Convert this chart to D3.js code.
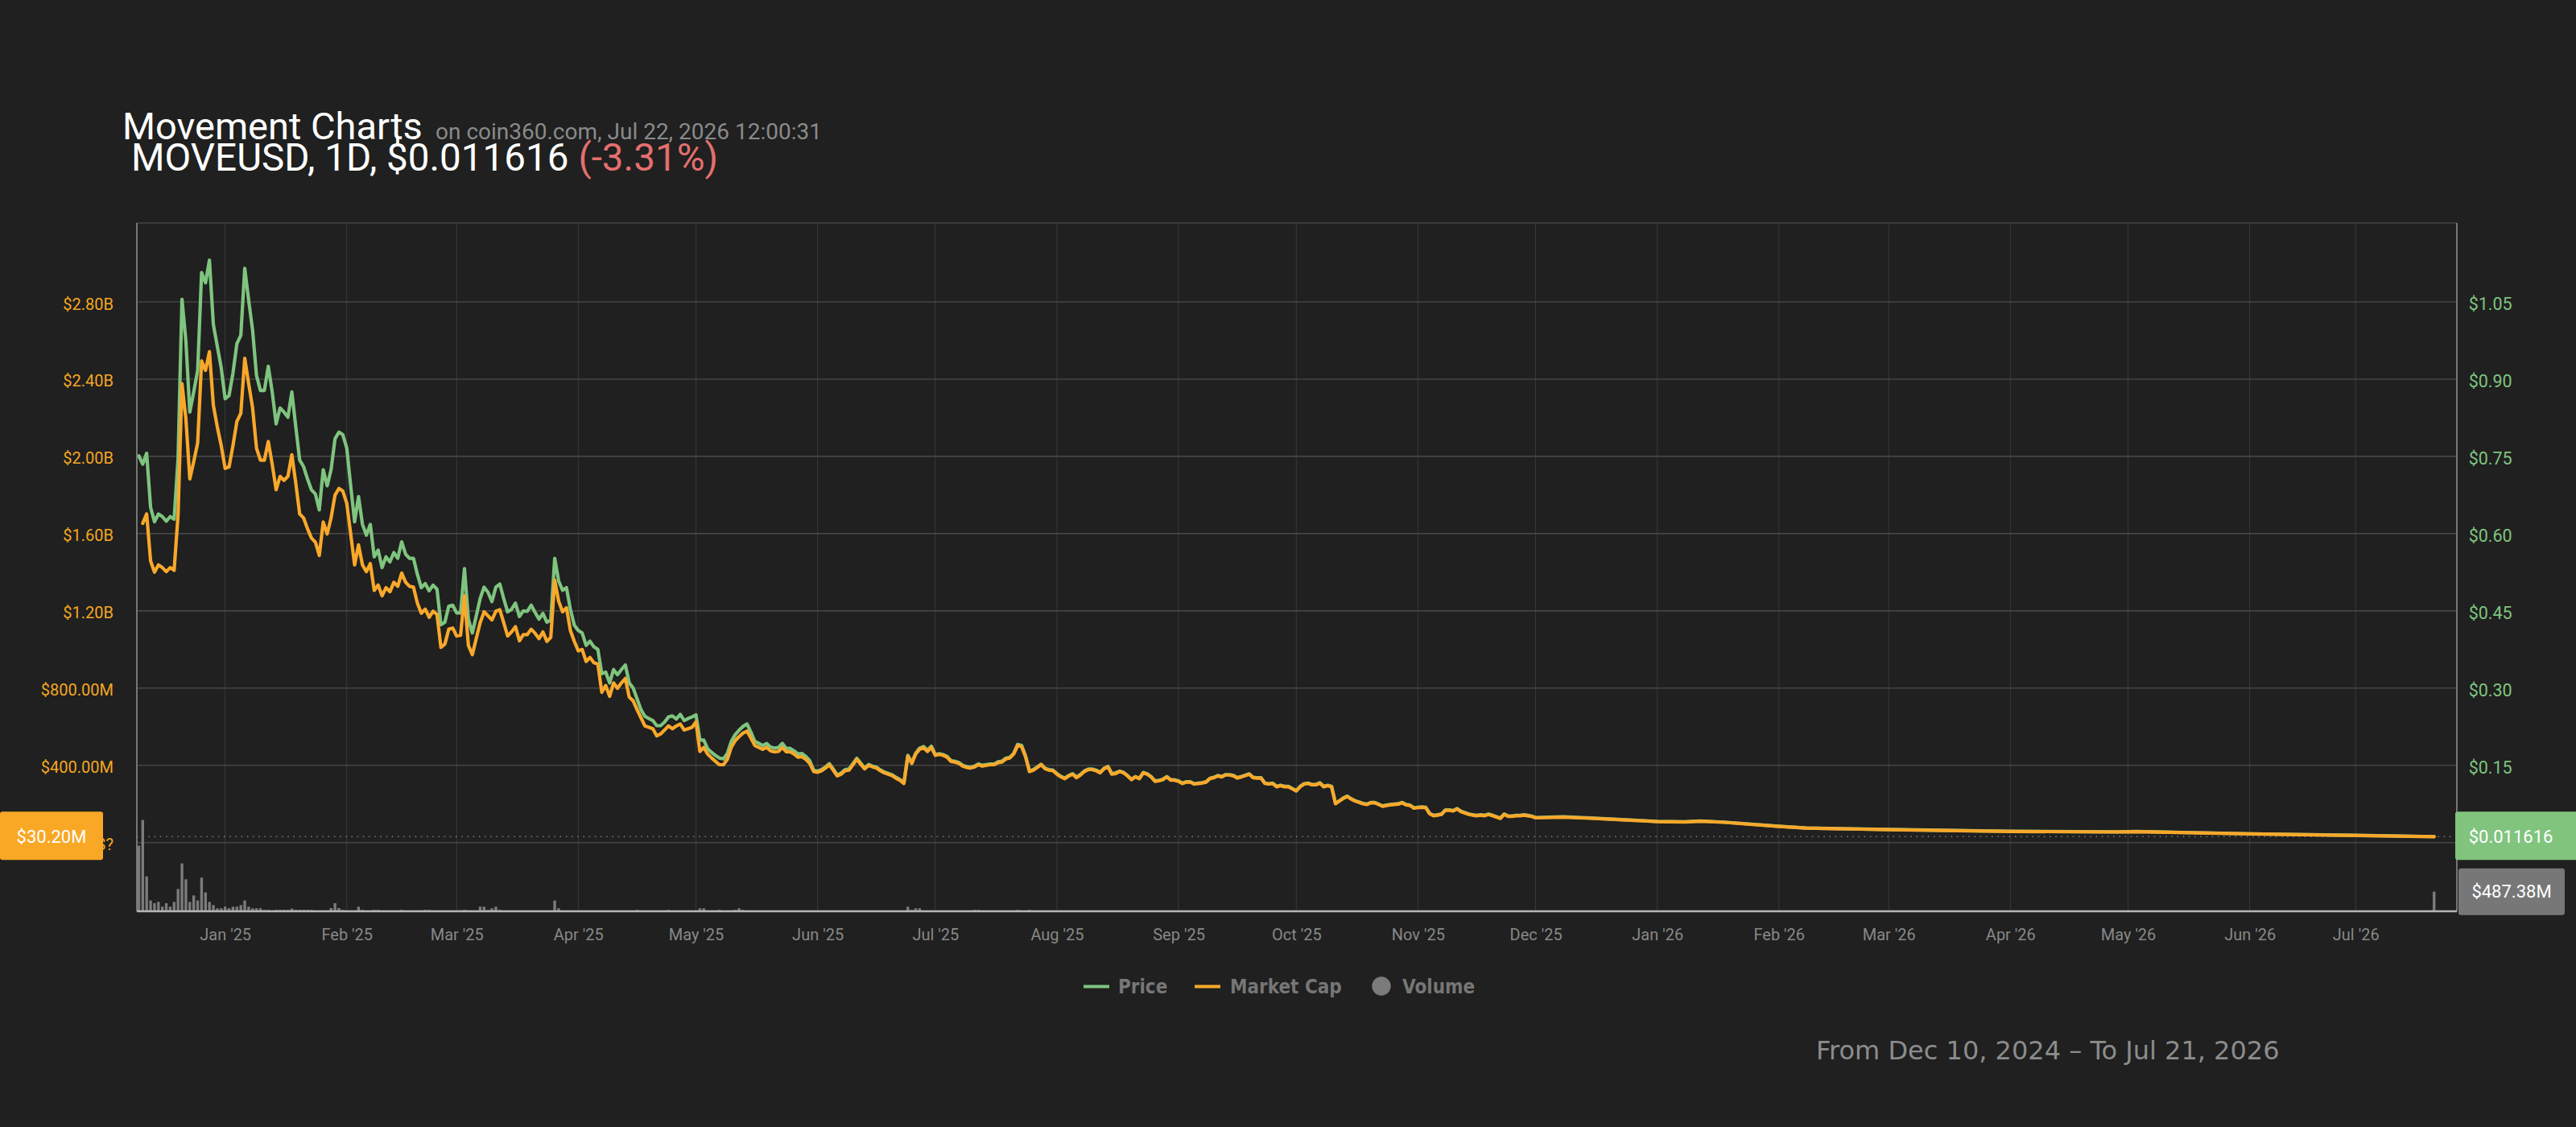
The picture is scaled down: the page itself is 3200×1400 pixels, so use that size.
<!DOCTYPE html>
<html><head><meta charset="utf-8">
<script src="https://cdn.jsdelivr.net/npm/d3@7"></script>
<style>
html,body{margin:0;padding:0;background:#1f201f;}
svg{display:block;}
</style></head><body>
<svg id="chart" width="3200" height="1400"></svg>
<script>
// ---------- DATA ----------
const startDate = "2024-12-10", endDate = "2026-07-21";
const missingDates = ["2026-06-14", "2026-06-15", "2026-06-16"];
// daily price (USD), from 2024-12-10
const priceValues = [
0.751,0.735,0.756,0.651,0.623,0.638,0.633,0.624,0.633,0.628,
0.745,1.055,0.974,0.836,0.875,0.917,1.107,1.087,1.131,1.006,
0.964,0.922,0.862,0.868,0.912,0.969,0.985,1.115,1.053,0.995,
0.907,0.878,0.878,0.925,0.875,0.813,0.844,0.836,0.826,0.875,
0.808,0.743,0.730,0.706,0.685,0.677,0.646,0.724,0.693,0.724,
0.784,0.797,0.792,0.766,0.693,0.623,0.672,0.618,0.597,0.618,
0.555,0.568,0.534,0.555,0.545,0.563,0.552,0.584,0.560,0.552,
0.552,0.521,0.495,0.503,0.489,0.500,0.492,0.423,0.428,0.459,
0.461,0.446,0.446,0.532,0.434,0.407,0.440,0.474,0.496,0.486,
0.468,0.496,0.502,0.474,0.448,0.453,0.465,0.439,0.450,0.449,
0.461,0.447,0.434,0.445,0.428,0.432,0.552,0.508,0.490,0.495,
0.453,0.422,0.412,0.407,0.383,0.391,0.380,0.375,0.328,0.331,
0.310,0.336,0.326,0.336,0.345,0.310,0.300,0.279,0.258,0.245,
0.241,0.237,0.227,0.227,0.234,0.244,0.246,0.240,0.249,0.237,
0.241,0.244,0.248,0.199,0.199,0.182,0.175,0.169,0.164,
0.1626,0.173,0.1965,0.2095,0.2183,0.2256,0.2303,0.2147,0.1965,0.1928,
0.1886,0.1923,0.1855,0.1834,0.1845,0.1928,0.1829,0.1829,0.1782,0.172,
0.173,0.1673,0.159,0.1407,0.1386,0.1417,0.147,0.1532,0.1428,0.1313,
0.135,0.1417,0.1428,0.1532,0.1636,0.1542,0.1449,0.1516,0.1485,0.1464,
0.1412,0.137,0.1344,0.1318,0.1266,0.1225,0.1162,0.1694,0.1553,0.1735,
0.1834,0.1866,0.1793,0.1871,0.1709,0.1725,0.1709,0.1673,0.159,0.1579,
0.1553,0.1501,0.1475,0.1464,0.1485,0.1527,0.1501,0.1516,0.1527,0.1527,
0.1568,0.1579,0.1641,0.1657,0.1735,0.1907,0.1886,0.1683,0.1391,0.1417,
0.147,0.1522,0.1443,0.1417,0.1407,0.1339,0.1287,0.1251,0.1303,0.1339,
0.1271,0.1324,0.1391,0.1428,0.1428,0.1407,0.1365,0.1443,0.148,0.1339,
0.1355,
0.1388,0.1362,0.1302,0.1230,0.1283,0.1249,0.1362,0.1335,0.1283,0.1197,
0.1208,0.1230,0.1283,0.1219,0.1219,0.1197,0.1155,0.1182,0.1182,0.1144,
0.1155,0.1163,0.1182,0.1249,0.1268,0.1302,0.1283,0.1320,0.1320,0.1302,
0.1260,0.1283,0.1309,0.1335,0.1268,0.1260,0.1260,0.1155,0.1144,0.1155,
0.1092,0.1114,0.1092,0.1092,0.1050,0.1009,0.1092,0.1144,0.1155,0.1129,
0.1129,0.1163,0.1092,0.1114,0.1092,0.0762,0.0814,0.0867,0.0904,0.0852,
0.0814,0.0788,0.0762,0.0747,0.0780,0.0780,0.0747,0.0713,0.0728,0.0739,
0.0747,0.0754,0.0780,0.0739,0.0728,0.0675,0.0687,0.0694,0.0687,0.0567,
0.0529,0.0540,0.0555,0.0634,0.0634,0.0623,0.0660,0.0608,0.0582,0.0555,
0.0540,0.0529,0.0540,0.0529,0.0555,0.0529,0.0503,0.0477,0.0555,0.0518,
0.0518,0.0529,0.0529,0.0540,0.0529,0.0514,0.0488
];
// daily market cap (millions USD), from 2024-12-10
const capValuesM = [
null,1653,1702,1459,1400,1438,1424,1403,1424,1410,
1695,2376,2195,1883,1973,2070,2494,2445,2542,2265,
2153,2056,1938,1945,2056,2181,2223,2508,2376,2251,
2042,1980,1980,2077,1959,1827,1896,1876,1896,2008,
1862,1702,1681,1625,1577,1556,1487,1660,1598,1681,
1799,1834,1820,1757,1598,1438,1542,1438,1403,1445,
1306,1334,1278,1320,1299,1348,1327,1396,1348,1327,
1323,1240,1188,1209,1167,1198,1181,1011,1028,1105,
1111,1070,1073,1278,1021,973,1056,1139,1195,1174,
1153,1198,1206,1139,1070,1091,1118,1045,1077,1077,
1105,1084,1056,1091,1042,1063,1359,1250,1195,1216,
1098,1042,993,1000,938,959,931,924,778,813,
757,827,799,827,850,753,734,688,646,604,
597,590,553,563,583,604,590,604,614,583,
590,597,625,472,493,458,438,420,403,
403,431,493,528,549,567,577,542,503,493,
483,493,475,470,472,493,470,470,459,442,
445,431,410,368,364,372,386,403,375,345,
354,372,375,403,431,406,382,400,392,386,
372,361,354,347,333,322,306,447,410,459,
483,492,472,493,452,456,452,442,420,417,
410,396,389,386,392,403,396,400,403,403,
414,417,433,438,459,503,497,445,368,375,
389,403,382,375,372,354,340,331,345,354,
336,350,368,378,378,372,361,382,392,354,
358,
368,361,345,326,340,331,361,354,340,317,
320,326,340,323,323,317,306,313,313,303,
306,308,313,331,336,345,340,350,350,345,
334,340,347,354,336,334,334,306,303,306,
289,295,289,289,278,267,289,303,306,299,
299,308,289,295,289,201,215,229,239,225,
215,208,201,197,206,206,197,188,192,195,
197,199,206,195,192,178,181,183,181,149,
139,142,146,167,167,164,174,160,153,146,
142,139,142,139,146,139,132,125,146,136,
136,139,139,142,139,135,128
];
// later readings (sparse)
const lateDates = ["2025-12-08","2025-12-15","2025-12-22","2026-01-01","2026-01-08","2026-01-12","2026-01-18","2026-02-01","2026-02-08","2026-03-01","2026-04-01","2026-04-28","2026-05-03","2026-06-01","2026-07-01","2026-07-21"];
const latePrice = [0.0500,0.0477,0.0450,0.0413,0.0405,0.0420,0.0398,0.0318,0.0284,0.0254,0.0220,0.0208,0.0215,0.0171,0.0141,0.011616];
const lateCapM  = [132,126,119,109,107,111,105,84,75,67,58,55,57,45,37,30.2];
// volume (millions USD)
const volumeDates = ["2024-12-10","2024-12-11","2024-12-12","2024-12-13","2024-12-14","2024-12-15","2024-12-16","2024-12-17","2024-12-18","2024-12-19",
"2024-12-20","2024-12-21","2024-12-22","2024-12-23","2024-12-24","2024-12-25","2024-12-26","2024-12-27","2024-12-28","2024-12-29",
"2024-12-30","2024-12-31","2025-01-01","2025-01-02","2025-01-03","2025-01-04","2025-01-05","2025-01-06","2025-01-07","2025-01-08",
"2025-01-09","2025-01-10","2025-01-11","2025-01-12","2025-01-14","2025-01-15","2025-01-16","2025-01-17","2025-01-18","2025-01-19",
"2025-01-20","2025-01-21","2025-01-22","2025-01-23","2025-01-28","2025-01-29","2025-01-30","2025-01-31","2025-02-04","2025-02-05",
"2025-02-08","2025-02-09","2025-02-15","2025-02-21","2025-02-22","2025-03-03","2025-03-07","2025-03-08","2025-03-09","2025-03-10",
"2025-03-11","2025-03-12","2025-03-26","2025-03-27","2025-04-16","2025-04-24","2025-05-02","2025-05-03","2025-05-07","2025-05-11",
"2025-05-12","2025-05-13","2025-06-24","2025-06-25","2025-06-26","2025-06-27","2025-07-11","2025-07-12","2025-07-22","2025-07-25",
"2026-07-21"];
const volumeValuesM = [1630,2270,868,268,200,234,114,200,114,234,
554,1190,794,234,394,268,834,468,234,154,
74,74,114,74,114,114,154,268,114,74,
74,74,34,34,34,34,34,34,66,34,
34,34,34,34,80,200,80,34,114,34,
34,34,34,34,34,34,114,114,34,74,
114,34,266,74,34,34,74,74,34,34,
74,34,114,34,74,74,34,34,34,34,
487.38];
const capTicksM = [0,400,800,1200,1600,2000,2400,2800];
const capTickLabels = ["$?","$400.00M","$800.00M","$1.20B","$1.60B","$2.00B","$2.40B","$2.80B"];
const priceTicks = [0,0.15,0.30,0.45,0.60,0.75,0.90,1.05];
const priceTickLabels = ["$0.00","$0.15","$0.30","$0.45","$0.60","$0.75","$0.90","$1.05"];
const lastPriceLabel = "$0.011616", lastCapLabel = "$30.20M", lastVolLabel = "$487.38M";

// ---------- LAYOUT ----------
const plot = {left:170, right:3052, top:277, bottom:1132};
const C = {bg:"#1f201f", grid:"#454545", vgrid:"#3a3a3a", green:"#7fc47f", orange:"#f9a82b", vol:"#7b7b7b"};
const svg = d3.select("#chart");
svg.append("rect").attr("width",3200).attr("height",1400).attr("fill",C.bg);

const parse = d3.utcParse("%Y-%m-%d"), iso = d3.utcFormat("%Y-%m-%d");
const missing = new Set(missingDates);
const dates = d3.utcDay.range(parse(startDate), d3.utcDay.offset(parse(endDate),1)).filter(d=>!missing.has(iso(d)));
const N = dates.length;
const idx = new Map(dates.map((d,i)=>[iso(d),i]));

const x = d3.scaleLinear().domain([-0.5, N-1+5.8]).range([plot.left, plot.right]);
const capY = d3.scaleLinear().domain([0,2800]).range([1046.7,375]);
const priceY = d3.scaleLinear().domain([0,1.05]).range([1046.7,375]);
const volY = d3.scaleLinear().domain([0,2270]).range([plot.bottom,1018.6]);

// grid
const monthIdx = dates.map((d,i)=>d.getUTCDate()===1?i:-1).filter(i=>i>=0);
const grid = svg.append("g");
grid.selectAll("line.v").data(monthIdx).join("line").attr("class","v")
  .attr("x1",d=>x(d)).attr("x2",d=>x(d)).attr("y1",plot.top).attr("y2",plot.bottom)
  .attr("stroke",C.vgrid).attr("stroke-width",1);
grid.selectAll("line.h").data(capTicksM).join("line").attr("class","h")
  .attr("x1",plot.left).attr("x2",plot.right).attr("y1",d=>capY(d)).attr("y2",d=>capY(d))
  .attr("stroke",C.grid).attr("stroke-width",1.6);
grid.append("line").attr("x1",plot.left).attr("x2",plot.right).attr("y1",plot.top).attr("y2",plot.top)
  .attr("stroke",C.grid).attr("stroke-width",1.6);

// volume
svg.append("g").selectAll("rect").data(volumeDates.map((d,k)=>({i:idx.get(d),v:volumeValuesM[k]})))
  .join("rect").attr("x",d=>x(d.i)-1.7).attr("width",3.4)
  .attr("y",d=>volY(d.v)).attr("height",d=>plot.bottom-volY(d.v)).attr("fill",C.vol);

// points
const pts = priceValues.map((p,i)=>({i, p, m:capValuesM[i]}));
lateDates.forEach((d,k)=>pts.push({i:idx.get(d), p:latePrice[k], m:lateCapM[k]}));
const lastP = pts[pts.length-1];

// dotted current-price line
svg.append("line").attr("x1",plot.left).attr("x2",plot.right)
  .attr("y1",priceY(lastP.p)).attr("y2",priceY(lastP.p))
  .attr("stroke","#777").attr("stroke-width",1.6).attr("stroke-dasharray","1.6 5.6");

const priceLine = d3.line().defined(d=>d.p!=null).x(d=>x(d.i)).y(d=>priceY(d.p));
const capLine = d3.line().defined(d=>d.m!=null).x(d=>x(d.i)).y(d=>capY(d.m));
svg.append("path").datum(pts).attr("d",priceLine).attr("fill","none").attr("stroke",C.green)
  .attr("stroke-width",4.2).attr("stroke-linejoin","round").attr("stroke-linecap","round");
svg.append("path").datum(pts).attr("d",capLine).attr("fill","none").attr("stroke",C.orange)
  .attr("stroke-width",4.2).attr("stroke-linejoin","round").attr("stroke-linecap","round");

// axis lines
svg.append("line").attr("x1",plot.left).attr("x2",plot.left).attr("y1",plot.top).attr("y2",plot.bottom).attr("stroke","#8c8c8c").attr("stroke-width",1.6);
svg.append("line").attr("x1",plot.right).attr("x2",plot.right).attr("y1",plot.top).attr("y2",plot.bottom).attr("stroke","#8c8c8c").attr("stroke-width",1.6);
svg.append("line").attr("x1",plot.left).attr("x2",plot.right).attr("y1",plot.bottom).attr("y2",plot.bottom).attr("stroke","#b5b5b5").attr("stroke-width",2.5);

// axes
const fontR = "Roboto, 'Noto Sans', sans-serif";
const leftAx = svg.append("g").attr("transform",`translate(${plot.left},0)`)
  .call(d3.axisLeft(capY).tickValues(capTicksM).tickFormat((d,k)=>capTickLabels[k]).tickSize(0).tickPadding(29));
leftAx.select(".domain").remove();
leftAx.selectAll("text").attr("fill","#f5a623").attr("dy","0.45em").style("font-family",fontR).style("font-size","20px");

const rightAx = svg.append("g").attr("transform",`translate(${plot.right},0)`)
  .call(d3.axisRight(priceY).tickValues(priceTicks).tickFormat((d,k)=>priceTickLabels[k]).tickSize(0).tickPadding(14.7));
rightAx.select(".domain").remove();
rightAx.selectAll("text").attr("fill","#7fc47f").attr("dy","0.45em").style("font-family",fontR).style("font-size","21.5px");

const fmtM = d3.utcFormat("%b '%y");
const botAx = svg.append("g").attr("transform",`translate(0,${plot.bottom})`)
  .call(d3.axisBottom(x).tickValues(monthIdx).tickFormat(i=>fmtM(dates[i])).tickSize(0).tickPadding(22));
botAx.select(".domain").remove();
botAx.selectAll("text").attr("fill","#888").style("font-family",fontR).style("font-size","20px");

// badges
const yLast = priceY(lastP.p);
svg.append("rect").attr("x",0).attr("y",yLast-31).attr("width",128).attr("height",60).attr("rx",3).attr("fill","#f9a825");
svg.append("text").attr("x",64).attr("y",yLast+7.5).attr("text-anchor","middle").attr("fill","#fff")
  .style("font-family",fontR).style("font-size","22px").text(lastCapLabel);
svg.append("rect").attr("x",3050).attr("y",yLast-31).attr("width",152).attr("height",60).attr("rx",3).attr("fill","#80c47e");
svg.append("text").attr("x",3066.7).attr("y",yLast+7.5).attr("fill","#fff")
  .style("font-family",fontR).style("font-size","22px").text(lastPriceLabel);
const lastVol = volumeValuesM[volumeValuesM.length-1];
const yv = volY(lastVol);
svg.append("rect").attr("x",3054).attr("y",yv-29).attr("width",132).attr("height",58).attr("rx",3).attr("fill","#777");
svg.append("text").attr("x",3120).attr("y",yv+7.5).attr("text-anchor","middle").attr("fill","#fff")
  .style("font-family",fontR).style("font-size","22px").text(lastVolLabel);

// titles
svg.append("text").attr("x",152).attr("y",173).attr("fill","#fff").style("font-family",fontR).style("font-size","47px").text("Movement Charts");
svg.append("text").attr("x",541).attr("y",173).attr("fill","#8a8a8a").style("font-family",fontR).style("font-size","28px").text("on coin360.com, Jul 22, 2026 12:00:31");
const t2 = svg.append("text").attr("x",163).attr("y",212).attr("fill","#fff").style("font-family",fontR).style("font-size","47.6px");
t2.append("tspan").text("MOVEUSD, 1D, $0.011616 ");
t2.append("tspan").attr("fill","#e46f6f").text("(-3.31%)");

// legend
const fontL = "'DejaVu Sans Condensed','DejaVu Sans',sans-serif";
const lg = svg.append("g").style("font-family",fontL).style("font-size","24px").style("font-weight","bold").style("font-stretch","condensed");
lg.append("line").attr("x1",1346).attr("x2",1378).attr("y1",1225.5).attr("y2",1225.5).attr("stroke",C.green).attr("stroke-width",4);
lg.append("text").attr("x",1389).attr("y",1233.5).attr("fill","#767676").text("Price");
lg.append("line").attr("x1",1484).attr("x2",1516).attr("y1",1225.5).attr("y2",1225.5).attr("stroke",C.orange).attr("stroke-width",4);
lg.append("text").attr("x",1528).attr("y",1233.5).attr("fill","#767676").text("Market Cap");
lg.append("circle").attr("cx",1716).attr("cy",1225).attr("r",11.7).attr("fill","#7b7b7b");
lg.append("text").attr("x",1742).attr("y",1233.5).attr("fill","#767676").text("Volume");

svg.append("text").attr("x",2256).attr("y",1316).attr("fill","#8c8c8c")
  .style("font-family","'DejaVu Sans',sans-serif").style("font-size","32px")
  .text("From Dec 10, 2024 \u2013 To Jul 21, 2026");
</script>
</body></html>
